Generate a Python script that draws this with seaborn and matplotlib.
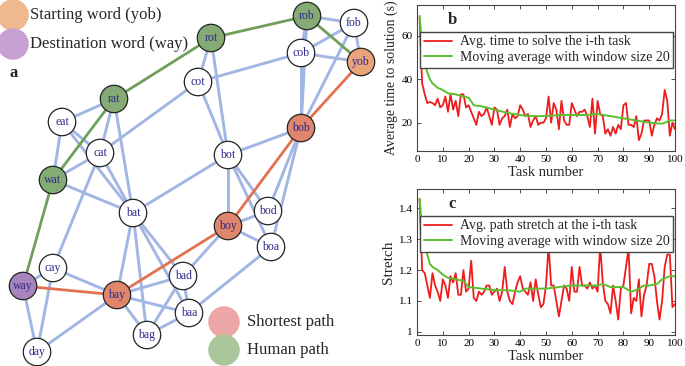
import matplotlib
matplotlib.use("Agg")
import matplotlib.pyplot as plt
import numpy as np
import pandas as pd
import seaborn as sns

# ---- word graph (panel a), node positions ----
node_names = ["rob", "fob", "cob", "yob", "rot", "cot", "rat", "bob", "eat", "cat",
              "bot", "wat", "bat", "bod", "boy", "boa", "cay", "bad", "way", "bay",
              "baa", "bag", "day"]
node_x = [307, 354, 301, 361, 211, 198, 114, 301, 62, 100,
          228, 53, 133, 268, 228, 271, 53, 183, 23, 117,
          189, 147, 37]
node_y = [16, 23, 53, 62, 38, 82, 99, 128, 122, 153,
          155, 180, 213, 211, 226, 247, 268, 276, 286, 295,
          313, 335, 352]
node_role = ["human", "plain", "plain", "start", "human", "plain", "human", "short", "plain", "plain",
             "plain", "human", "plain", "plain", "short", "plain", "plain", "plain", "dest", "short",
             "plain", "plain", "plain"]

blue_edges = [("rob", "fob"), ("rob", "cob"), ("rob", "bob"), ("cob", "bob"), ("fob", "cob"),
              ("fob", "yob"), ("fob", "bob"), ("cob", "yob"), ("cob", "cot"),
              ("rot", "cot"), ("rot", "bot"), ("cot", "bot"), ("cot", "cat"),
              ("rat", "eat"), ("rat", "cat"), ("rat", "bat"),
              ("eat", "wat"), ("eat", "cat"), ("eat", "bat"),
              ("cat", "wat"), ("cat", "bat"), ("cat", "cay"), ("wat", "bat"),
              ("bot", "bob"), ("bot", "bat"), ("bot", "boy"), ("bot", "bod"), ("bot", "boa"),
              ("bob", "bod"), ("bob", "boa"), ("boy", "bod"), ("boy", "boa"), ("boy", "bad"),
              ("boa", "baa"), ("bat", "bay"), ("bat", "bag"), ("bat", "bad"), ("bat", "baa"),
              ("bay", "bad"), ("bay", "baa"), ("bay", "bag"), ("bay", "cay"), ("bay", "day"),
              ("bad", "bag"), ("bad", "baa"), ("baa", "bag"),
              ("way", "cay"), ("way", "day"), ("cay", "day")]
human_path = ["yob", "rob", "rot", "rat", "wat", "way"]
short_path = ["yob", "bob", "boy", "bay", "way"]

# ---- panel b ----
task = list(range(1, 101))
time_avg = [68, 38, 33, 29, 29.5, 29, 28, 31, 27, 28,
            32, 25, 33, 26, 30, 23, 33, 33, 27, 28,
            25, 22, 19, 25, 23, 24, 27, 23, 19, 27,
            26, 19, 22, 23, 26, 18, 24, 22, 23, 28,
            26, 23, 24, 18, 21, 23, 19, 20, 20, 22,
            32, 20, 29, 26, 17, 30, 21, 19, 19, 29,
            26, 23, 25, 25, 26, 23, 18, 31, 15, 30,
            24, 23, 15, 17, 14, 18, 15, 19, 17, 28,
            29, 19, 19, 18, 23, 12, 15, 21, 21, 21,
            14, 19, 22, 21, 24, 35, 30, 14, 20, 17]
time_ma_x = [1, 2, 3, 4, 5, 6, 8, 10, 12, 15, 18, 20, 22, 25, 30, 35, 40, 45, 50,
             55, 60, 65, 70, 75, 80, 85, 90, 95, 98, 100]
time_ma = [69, 55, 47, 43, 40, 38, 36, 35, 33.5, 33, 32, 31.5, 28, 27.5, 26, 24.5, 23.5, 23, 23,
           23.5, 23.5, 23.5, 24, 23, 22, 21, 20, 19.5, 21, 21]

# ---- panel c ----
stretch = [1.43, 1.20, 1.19, 1.15, 1.11, 1.19, 1.15, 1.13, 1.10, 1.17,
           1.15, 1.11, 1.18, 1.16, 1.19, 1.12, 1.12, 1.20, 1.13, 1.14,
           1.23, 1.11, 1.10, 1.13, 1.12, 1.13, 1.15, 1.15, 1.12, 1.13,
           1.14, 1.10, 1.13, 1.21, 1.13, 1.10, 1.09, 1.13, 1.16, 1.18,
           1.14, 1.13, 1.12, 1.16, 1.10, 1.17, 1.12, 1.08, 1.09, 1.15,
           1.28, 1.15, 1.15, 1.10, 1.05, 1.10, 1.15, 1.14, 1.10, 1.21,
           1.13, 1.13, 1.21, 1.15, 1.15, 1.14, 1.16, 1.14, 1.15, 1.13,
           1.28, 1.16, 1.10, 1.09, 1.06, 1.15, 1.10, 1.04, 1.14, 1.15,
           1.21, 1.27, 1.06, 1.11, 1.10, 1.17, 1.05, 1.12, 1.15, 1.22,
           1.22, 1.18, 1.10, 1.04, 1.10, 1.21, 1.25, 1.25, 1.08, 1.09]
stretch_ma_x = [1, 2, 3, 4, 5, 6, 8, 10, 12, 15, 18, 20, 25, 30, 35, 40, 42, 45, 50,
                55, 60, 65, 70, 72, 75, 80, 83, 85, 88, 90, 93, 95, 98, 100]
stretch_ma = [1.43, 1.33, 1.28, 1.25, 1.22, 1.21, 1.20, 1.185, 1.175, 1.17, 1.165, 1.145, 1.14, 1.135,
              1.135, 1.13, 1.14, 1.14, 1.14, 1.145, 1.15, 1.15, 1.15, 1.155, 1.145, 1.145, 1.13,
              1.135, 1.15, 1.15, 1.155, 1.17, 1.18, 1.18]

sns.set_theme(style="ticks")
plt.rcParams["font.family"] = ["Liberation Serif", "DejaVu Serif"]

fig = plt.figure(figsize=(6.85, 3.66), dpi=100)

# ---------------- panel a: graph ----------------
axg = fig.add_axes([0, 0, 380 / 685, 1])
axg.set_xlim(0, 380)
axg.set_ylim(366, 0)
axg.axis("off")

pos = dict(zip(node_names, zip(node_x, node_y)))
for a, b in blue_edges:
    axg.plot([pos[a][0], pos[b][0]], [pos[a][1], pos[b][1]], color="#a2b6e4", lw=2.1, zorder=1,
             solid_capstyle="round")
for path, col in [(human_path, "#6f9f5a"), (short_path, "#e2714f")]:
    px = [pos[n][0] for n in path]
    py = [pos[n][1] for n in path]
    axg.plot(px, py, color=col, lw=2.0, zorder=2)

nodes = pd.DataFrame({"x": node_x, "y": node_y, "role": node_role, "name": node_names})
palette = {"plain": "white", "human": "#85ab74", "short": "#e0866d",
           "start": "#eaa47a", "dest": "#a884bd"}
sns.scatterplot(data=nodes, x="x", y="y", hue="role", palette=palette, s=390,
                edgecolor="#222222", linewidth=0.9, legend=False, zorder=3, ax=axg)
for n, x, y in zip(node_names, node_x, node_y):
    axg.text(x, y, n, ha="center", va="center", fontsize=8.5, color="#2d2a8a", zorder=4)

# legend-like markers
axg.scatter([13, 13], [15, 44], s=470, c=["#efb88e", "#c8a0d2"], zorder=3)
axg.text(30, 15, "Starting word (yob)", fontsize=12, va="center", ha="left")
axg.text(30, 44, "Destination word (way)", fontsize=12, va="center", ha="left")
axg.text(10, 73, "a", fontsize=12, fontweight="bold", va="center", ha="left")
axg.scatter([224, 224], [322, 350], s=470, c=["#eda6a6", "#a9c79a"], zorder=3)
axg.text(247, 322, "Shortest path", fontsize=12, va="center", ha="left")
axg.text(247, 350, "Human path", fontsize=12, va="center", ha="left")


def style_axis(ax):
    ax.set_xlim(0, 100)
    ax.set_xticks(range(0, 101, 10))
    ax.tick_params(direction="in", top=True, right=True, labelsize=8, length=3, width=0.6,
                   colors="#333333", labelcolor="black", pad=3)
    for sp in ax.spines.values():
        sp.set_visible(True)
        sp.set_color("#444444")
        sp.set_linewidth(0.8)
    ax.set_xlabel("Task number", fontsize=10.5, labelpad=1)


legend_kw = dict(loc="upper right", bbox_to_anchor=(0.993, 0.815), fontsize=10, frameon=True,
                 fancybox=False, edgecolor="#444444", framealpha=1, borderpad=0.25,
                 handlelength=2.0, handletextpad=0.6, labelspacing=0.2, borderaxespad=0)

# ---------------- panel b ----------------
axb = fig.add_axes([417 / 685, 1 - 151 / 366, 258 / 685, 146 / 366])
sns.lineplot(x=task, y=time_avg, color="#ee1c1c", lw=1.3, ax=axb,
             label="Avg. time to solve the i-th task")
sns.lineplot(x=time_ma_x, y=time_ma, color="#5cbf2e", lw=1.4, ax=axb,
             label="Moving average with window size 20")
axb.set_ylim(7, 74)
axb.set_yticks([20, 40, 60])
style_axis(axb)
axb.set_ylabel("Average time to solution (s)", fontsize=10, labelpad=3)
axb.text(0.12, 0.90, "b", transform=axb.transAxes, fontsize=12, fontweight="bold", va="center")
axb.legend(**legend_kw)

# ---------------- panel c ----------------
axc = fig.add_axes([417 / 685, 1 - 335 / 366, 258 / 685, 146 / 366])
sns.lineplot(x=task, y=stretch, color="#ee1c1c", lw=1.3, ax=axc,
             label="Avg. path stretch at the i-th task")
sns.lineplot(x=stretch_ma_x, y=stretch_ma, color="#5cbf2e", lw=1.4, ax=axc,
             label="Moving average with window size 20")
axc.set_ylim(0.99, 1.462)
axc.set_yticks([1, 1.1, 1.2, 1.3, 1.4])
axc.set_yticklabels(["1", "1.1", "1.2", "1.3", "1.4"])
style_axis(axc)
axc.set_ylabel("Stretch", fontsize=11, labelpad=3)
axc.text(0.12, 0.90, "c", transform=axc.transAxes, fontsize=12, fontweight="bold", va="center")
axc.legend(**legend_kw)

fig.savefig("out.png", dpi=100)
